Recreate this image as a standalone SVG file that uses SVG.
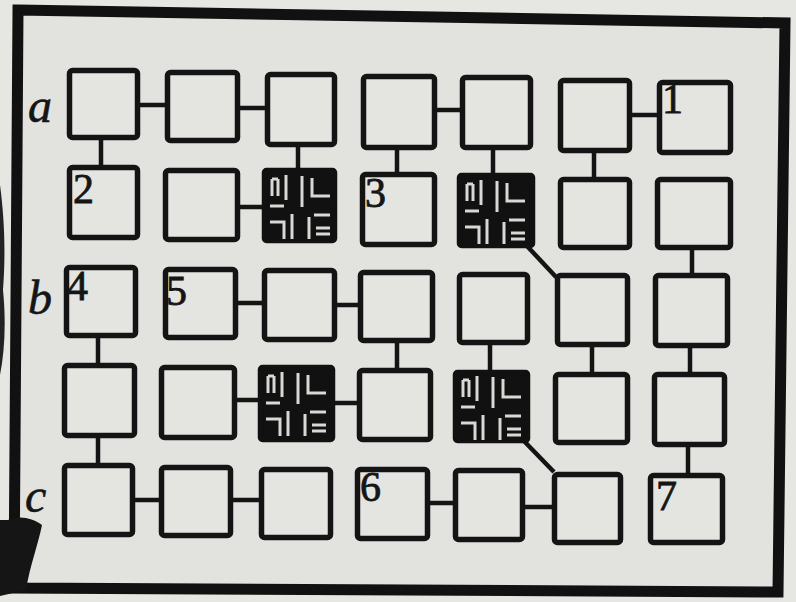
<svg xmlns="http://www.w3.org/2000/svg" width="796" height="602" viewBox="0 0 796 602">
<style>
.bx{fill:#e4e4e1;stroke:#141414;stroke-width:5.5;stroke-linejoin:round}
.bk{fill:#111;stroke:#111;stroke-width:5.5;stroke-linejoin:round}
.pt{fill:none;stroke:#d8d8d4;stroke-width:3;stroke-linecap:butt}
.cn{fill:none;stroke:#141414;stroke-width:4.5;stroke-linecap:butt}
.num{font-family:"Liberation Serif",serif;font-size:42px;fill:#151515;stroke:#151515;stroke-width:0.8}
.lab{font-family:"Liberation Serif",serif;font-style:italic;font-size:48px;fill:#151515;stroke:#151515;stroke-width:0.6}
</style>
<defs>
<g id="glyph">
<path class="pt" d="M10,11 V28 M16,11 V28 M10,11 H16 M24,7 V32 M8,38 H22 M40,8 V39 M50,10 V28 H68 M8,54 H22 V71 M30,46 V71 M47,49 V71 M52,47 H68 M54,60 H68 M54,66 H68"/>
</g>
</defs>
<rect x="0" y="0" width="796" height="602" fill="#e6e6e3"/>
<g id="frame">
<polygon points="18,10 785,23 778,592 14,588" fill="#e2e2df" stroke="#111" stroke-width="11" stroke-linejoin="miter"/>
<path d="M0,185 C4,215 6,250 3,290 C6,320 5,350 0,375 Z" fill="#222"/>
<path d="M8,520 C20,515 32,518 42,525 C38,545 30,565 26,590 L0,596 L0,520 Z" fill="#151515"/>
</g>
<g id="connectors">
<path class="cn" d="M140,105 H165 M240,108 H265 M437,110 H460 M632,115 H657 M240,207 H262 M238,303 H262 M337,305 H358 M237,400 H258 M335,403 H357 M135,500 H159 M233,500 H259 M430,503 H453 M525,507 H552"/>
<path class="cn" d="M101,140 V165 M298,147 V168 M397,150 V172 M493,150 V173 M594,153 V177 M692,250 V273 M98,338 V363 M397,343 V368 M490,345 V370 M592,347 V372 M690,348 V372 M98,438 V463 M688,447 V473"/>
<path class="cn" d="M527,246 L556,277 M523,440 L554,472"/>
</g>
<g id="label-a"><text class="lab" x="28" y="122">a</text></g>
<g id="label-b"><text class="lab" x="28" y="314">b</text></g>
<g id="label-c"><text class="lab" x="25" y="512">c</text></g>
<g id="n-a1"><rect class="bx" x="69.5" y="70.5" width="68" height="67" rx="3"/></g>
<g id="n-a2"><rect class="bx" x="167.5" y="72.5" width="70" height="68" rx="3"/></g>
<g id="n-a3"><rect class="bx" x="267.5" y="74.5" width="67" height="70" rx="3"/></g>
<g id="n-a4"><rect class="bx" x="363.5" y="76.5" width="71" height="71" rx="3"/></g>
<g id="n-a5"><rect class="bx" x="462.5" y="77.5" width="68" height="70" rx="3"/></g>
<g id="n-a6"><rect class="bx" x="560.5" y="80.5" width="69" height="70" rx="3"/></g>
<g id="n-a7"><rect class="bx" x="659.5" y="82.5" width="71" height="70" rx="3"/><text class="num" x="662" y="113">1</text></g>
<g id="n-r2c1"><rect class="bx" x="69.5" y="167.5" width="68" height="70" rx="3"/><text class="num" x="73" y="203">2</text></g>
<g id="n-r2c2"><rect class="bx" x="165.5" y="170.5" width="72" height="69" rx="3"/></g>
<g id="n-r2c3"><rect class="bk" x="264.5" y="170.5" width="70" height="70" rx="2"/><use href="#glyph" transform="translate(262,168)"/></g>
<g id="n-r2c4"><rect class="bx" x="362.5" y="174.5" width="72" height="70" rx="3"/><text class="num" x="365" y="207">3</text></g>
<g id="n-r2c5"><rect class="bk" x="459.5" y="175.5" width="73" height="70" rx="2"/><use href="#glyph" transform="translate(457,173)"/></g>
<g id="n-r2c6"><rect class="bx" x="560.5" y="179.5" width="69" height="68" rx="3"/></g>
<g id="n-r2c7"><rect class="bx" x="657.5" y="179.5" width="73" height="68" rx="3"/></g>
<g id="n-b1"><rect class="bx" x="66.5" y="267.5" width="69" height="68" rx="3"/><text class="num" x="67" y="300">4</text></g>
<g id="n-b2"><rect class="bx" x="165.5" y="269.5" width="70" height="68" rx="3"/><text class="num" x="166" y="305">5</text></g>
<g id="n-b3"><rect class="bx" x="264.5" y="270.5" width="70" height="69" rx="3"/></g>
<g id="n-b4"><rect class="bx" x="360.5" y="272.5" width="72" height="68" rx="3"/></g>
<g id="n-b5"><rect class="bx" x="459.5" y="274.5" width="68" height="68" rx="3"/></g>
<g id="n-b6"><rect class="bx" x="557.5" y="275.5" width="70" height="69" rx="3"/></g>
<g id="n-b7"><rect class="bx" x="655.5" y="275.5" width="72" height="70" rx="3"/></g>
<g id="n-r4c1"><rect class="bx" x="64.5" y="365.5" width="70" height="70" rx="3"/></g>
<g id="n-r4c2"><rect class="bx" x="161.5" y="367.5" width="73" height="70" rx="3"/></g>
<g id="n-r4c3"><rect class="bk" x="260.5" y="367.5" width="72" height="72" rx="2"/><use href="#glyph" transform="translate(258,365)"/></g>
<g id="n-r4c4"><rect class="bx" x="359.5" y="370.5" width="71" height="69" rx="3"/></g>
<g id="n-r4c5"><rect class="bk" x="455.5" y="372.5" width="72" height="68" rx="2"/><use href="#glyph" transform="translate(453,369)"/></g>
<g id="n-r4c6"><rect class="bx" x="555.5" y="374.5" width="72" height="68" rx="3"/></g>
<g id="n-r4c7"><rect class="bx" x="654.5" y="374.5" width="70" height="70" rx="3"/></g>
<g id="n-c1"><rect class="bx" x="64.5" y="465.5" width="68" height="69" rx="3"/></g>
<g id="n-c2"><rect class="bx" x="161.5" y="467.5" width="69" height="68" rx="3"/></g>
<g id="n-c3"><rect class="bx" x="261.5" y="469.5" width="69" height="68" rx="3"/></g>
<g id="n-c4"><rect class="bx" x="357.5" y="469.5" width="70" height="69" rx="3"/><text class="num" x="360" y="501">6</text></g>
<g id="n-c5"><rect class="bx" x="455.5" y="470.5" width="67" height="69" rx="3"/></g>
<g id="n-c6"><rect class="bx" x="554.5" y="474.5" width="66" height="68" rx="3"/></g>
<g id="n-c7"><rect class="bx" x="650.5" y="475.5" width="72" height="67" rx="3"/><text class="num" x="656" y="510">7</text></g>
</svg>
